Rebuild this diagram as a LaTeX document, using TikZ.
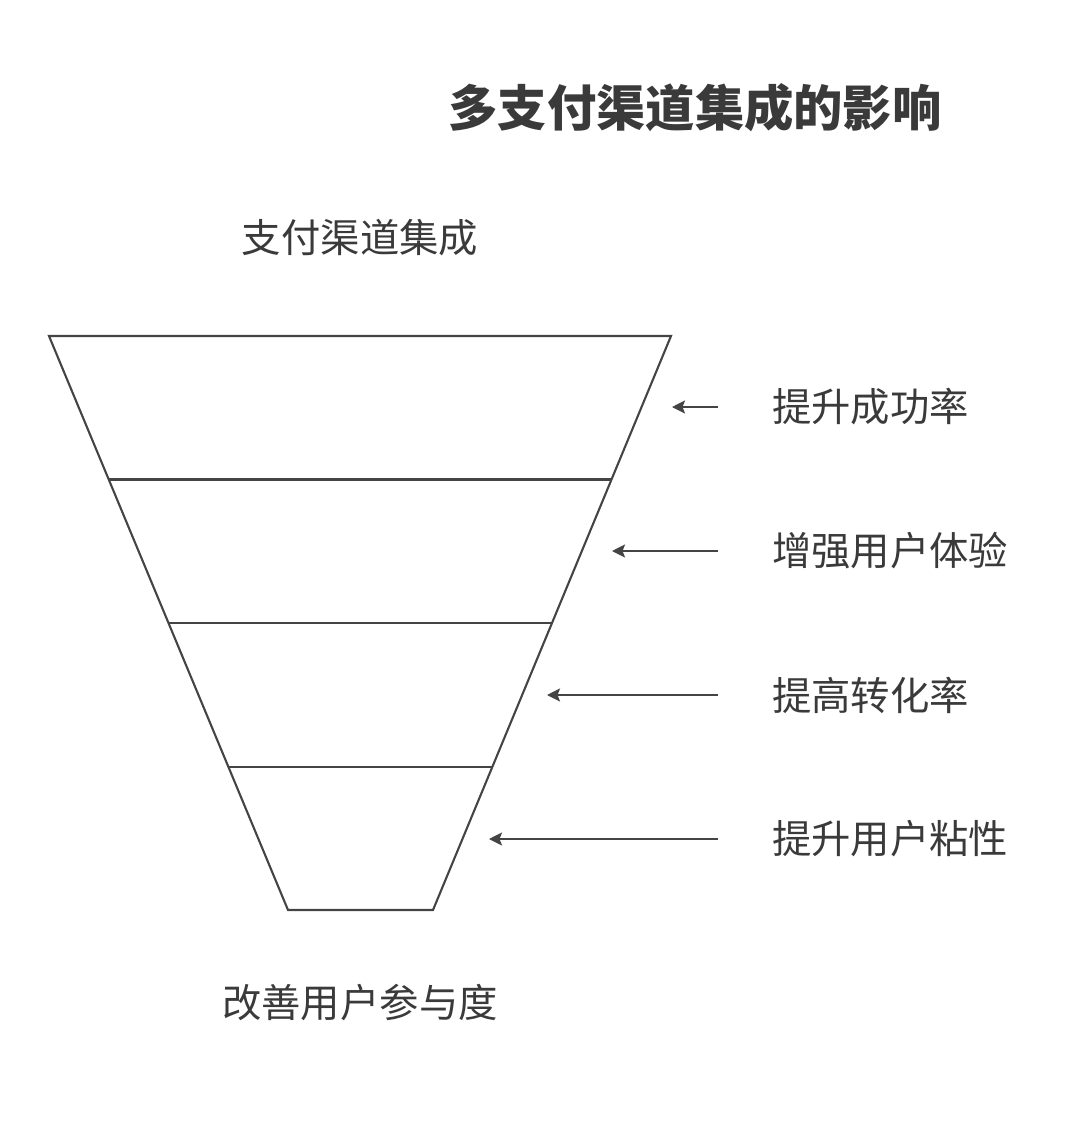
\documentclass[tikz,border=0pt]{standalone}
\usepackage{fontspec}
\newfontfamily\cjk{Noto Sans CJK SC}
\usetikzlibrary{arrows.meta}
\definecolor{ink}{HTML}{444444}
\definecolor{txt}{HTML}{3A3A3A}
\tikzset{
  funnel/.style={draw=ink, line width=2.1bp},
  arr/.style={draw=ink, line width=2.1bp, -{Stealth[length=13bp,width=13bp,inset=2.5bp]}},
  lbl/.style={text=txt, font=\cjk\fontsize{39.5}{44}\selectfont, inner sep=0pt},
  ttl/.style={text=txt, font=\cjk\bfseries\fontsize{49.5}{56}\selectfont, inner sep=0pt}
}
\begin{document}
\begin{tikzpicture}[x=1bp,y=-1bp]
\useasboundingbox (0,0) rectangle (1080,1127);
% funnel
\coordinate (tl) at (49,336);
\coordinate (tr) at (671,336);
\coordinate (bl) at (288,910);
\coordinate (br) at (433,910);
\draw[funnel, line join=miter] (tl) -- (tr) -- (br) -- (bl) -- cycle;
\coordinate (d1l) at (108.7,479.5); \coordinate (d1r) at (611.4,479.5);
\coordinate (d2l) at (168.5,623);   \coordinate (d2r) at (551.8,623);
\coordinate (d3l) at (228.3,767);   \coordinate (d3r) at (492.1,767);
\draw[funnel] (d1l) -- (d1r);
\draw[funnel] (d2l) -- (d2r);
\draw[funnel] (d3l) -- (d3r);
% title and labels
\node[ttl] (title) at (695,108) {多支付渠道集成的影响};
\node[lbl] (top) at (360,238) {支付渠道集成};
\node[lbl] (bottom) at (360,1003) {改善用户参与度};
\node[lbl, anchor=west] (l1) at (772,407) {提升成功率};
\node[lbl, anchor=west] (l2) at (772,551) {增强用户体验};
\node[lbl, anchor=west] (l3) at (772,695) {提高转化率};
\node[lbl, anchor=west] (l4) at (772,839) {提升用户粘性};
% arrows
\coordinate (a1s) at (718,407); \coordinate (a1e) at (672,407);
\coordinate (a2s) at (718,551); \coordinate (a2e) at (612,551);
\coordinate (a3s) at (718,695); \coordinate (a3e) at (547,695);
\coordinate (a4s) at (718,839); \coordinate (a4e) at (489,839);
\draw[arr] (a1s) -- (a1e);
\draw[arr] (a2s) -- (a2e);
\draw[arr] (a3s) -- (a3e);
\draw[arr] (a4s) -- (a4e);
\end{tikzpicture}
\end{document}
